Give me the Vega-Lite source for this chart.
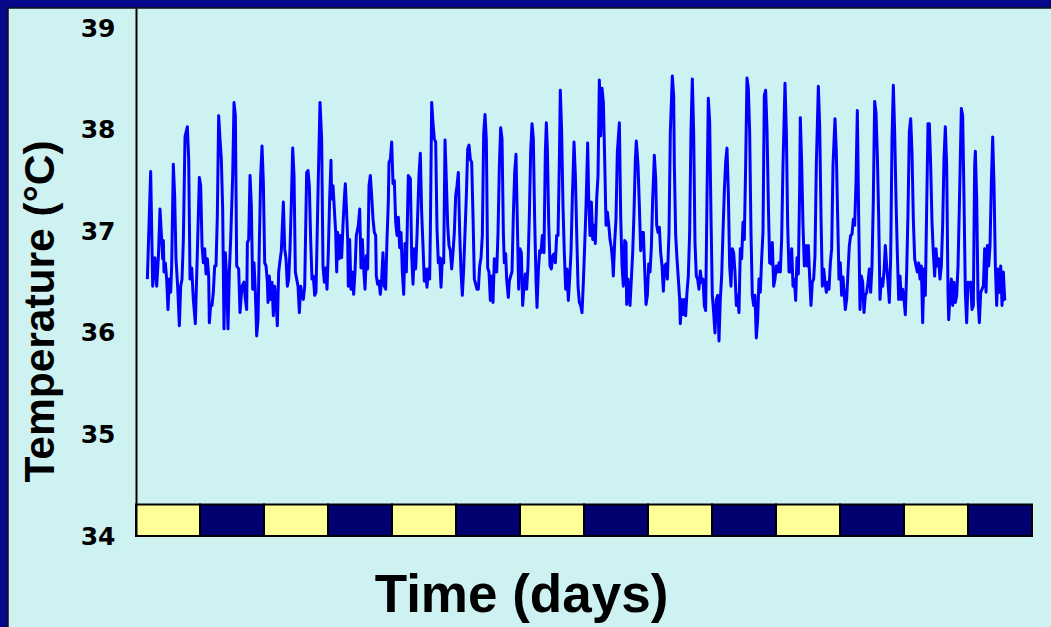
{
  "$schema": "https://vega.github.io/schema/vega-lite/v6.json",
  "width": 896,
  "height": 528,
  "autosize": {"type": "none"},
  "padding": {"left": 136, "top": 8, "right": 19, "bottom": 91},
  "background": "#07078a",
  "config": {"view": {"stroke": null}},
  "datasets": {
    "temp": [
      {"h":2.13,"t":36.53},{"h":2.75,"t":37.59},{"h":3.13,"t":36.46},{"h":3.56,"t":36.74},{"h":3.88,"t":36.46},{"h":4.19,"t":36.74},{"h":4.5,"t":37.22},{"h":4.81,"t":36.92},{"h":5.0,"t":36.73},{"h":5.13,"t":36.91},{"h":5.25,"t":36.6},{"h":5.5,"t":36.69},{"h":5.75,"t":36.53},{"h":6.0,"t":36.23},{"h":6.25,"t":36.53},{"h":6.5,"t":36.4},{"h":6.69,"t":36.66},{"h":7.0,"t":37.66},{"h":7.25,"t":37.35},{"h":7.5,"t":36.73},{"h":7.81,"t":36.46},{"h":8.13,"t":36.07},{"h":8.38,"t":36.46},{"h":8.63,"t":36.53},{"h":8.88,"t":36.92},{"h":9.19,"t":37.93},{"h":9.63,"t":38.03},{"h":9.88,"t":37.71},{"h":10.13,"t":36.53},{"h":10.44,"t":36.64},{"h":10.75,"t":36.33},{"h":11.13,"t":36.09},{"h":11.5,"t":36.79},{"h":11.88,"t":37.53},{"h":12.13,"t":37.45},{"h":12.38,"t":36.86},{"h":12.63,"t":36.69},{"h":12.88,"t":36.83},{"h":13.13,"t":36.58},{"h":13.38,"t":36.73},{"h":13.63,"t":36.56},{"h":13.75,"t":36.1},{"h":14.0,"t":36.27},{"h":14.25,"t":36.27},{"h":14.5,"t":36.4},{"h":14.75,"t":36.66},{"h":15.0,"t":36.66},{"h":15.25,"t":37.15},{"h":15.5,"t":38.14},{"h":15.75,"t":37.91},{"h":16.0,"t":37.71},{"h":16.25,"t":37.22},{"h":16.5,"t":36.04},{"h":16.75,"t":36.79},{"h":17.0,"t":36.53},{"h":17.25,"t":36.04},{"h":17.5,"t":36.6},{"h":17.75,"t":36.92},{"h":18.13,"t":37.55},{"h":18.38,"t":38.27},{"h":18.63,"t":38.14},{"h":18.88,"t":36.66},{"h":19.25,"t":36.63},{"h":19.5,"t":36.2},{"h":19.88,"t":36.46},{"h":20.25,"t":36.5},{"h":20.5,"t":36.33},{"h":20.75,"t":36.23},{"h":20.88,"t":36.89},{"h":21.13,"t":36.92},{"h":21.38,"t":37.55},{"h":21.63,"t":37.25},{"h":21.88,"t":36.43},{"h":22.13,"t":36.69},{"h":22.38,"t":36.4},{"h":22.63,"t":35.97},{"h":22.88,"t":36.13},{"h":23.13,"t":36.89},{"h":23.38,"t":37.55},{"h":23.63,"t":37.84},{"h":23.88,"t":37.48},{"h":24.13,"t":36.69},{"h":24.38,"t":36.66},{"h":24.63,"t":36.5},{"h":24.75,"t":36.3},{"h":25.0,"t":36.56},{"h":25.25,"t":36.33},{"h":25.5,"t":36.5},{"h":25.75,"t":36.17},{"h":26.0,"t":36.46},{"h":26.25,"t":36.33},{"h":26.5,"t":36.07},{"h":26.75,"t":36.6},{"h":27.0,"t":36.71},{"h":27.25,"t":36.81},{"h":27.63,"t":37.29},{"h":27.88,"t":36.83},{"h":28.13,"t":36.73},{"h":28.38,"t":36.46},{"h":28.63,"t":36.53},{"h":28.88,"t":36.83},{"h":29.13,"t":37.29},{"h":29.38,"t":37.82},{"h":29.63,"t":37.55},{"h":29.88,"t":36.6},{"h":30.13,"t":36.53},{"h":30.38,"t":36.46},{"h":30.63,"t":36.2},{"h":30.88,"t":36.46},{"h":31.13,"t":36.37},{"h":31.38,"t":36.33},{"h":31.63,"t":36.46},{"h":32.0,"t":37.58},{"h":32.25,"t":37.6},{"h":32.5,"t":37.45},{"h":32.75,"t":36.92},{"h":33.0,"t":36.53},{"h":33.25,"t":36.56},{"h":33.5,"t":36.37},{"h":33.75,"t":36.4},{"h":34.13,"t":37.39},
      {"h":34.5,"t":38.27},{"h":34.81,"t":37.91},{"h":35.06,"t":36.66},{"h":35.31,"t":36.5},{"h":35.56,"t":36.64},{"h":35.81,"t":36.43},{"h":36.06,"t":36.79},{"h":36.31,"t":37.32},{"h":36.56,"t":37.7},{"h":36.69,"t":37.32},{"h":36.94,"t":37.45},{"h":37.19,"t":37.22},{"h":37.44,"t":36.99},{"h":37.63,"t":36.6},{"h":37.81,"t":36.99},{"h":38.06,"t":36.73},{"h":38.31,"t":36.96},{"h":38.56,"t":36.74},{"h":38.81,"t":37.06},{"h":39.06,"t":37.32},{"h":39.25,"t":37.47},{"h":39.44,"t":37.25},{"h":39.69,"t":36.92},{"h":39.81,"t":36.46},{"h":40.06,"t":36.92},{"h":40.31,"t":36.43},{"h":40.56,"t":36.6},{"h":40.81,"t":36.38},{"h":41.06,"t":36.6},{"h":41.31,"t":36.96},{"h":41.69,"t":37.06},{"h":41.94,"t":37.22},{"h":42.19,"t":36.64},{"h":42.44,"t":36.92},{"h":42.69,"t":36.63},{"h":42.94,"t":36.43},{"h":43.19,"t":36.76},{"h":43.44,"t":36.63},{"h":43.69,"t":37.45},{"h":43.94,"t":37.55},{"h":44.19,"t":37.35},{"h":44.44,"t":37.12},{"h":44.69,"t":36.99},{"h":44.94,"t":36.96},{"h":45.06,"t":36.56},{"h":45.31,"t":36.48},{"h":45.56,"t":36.51},{"h":45.81,"t":36.38},{"h":46.06,"t":36.53},{"h":46.31,"t":36.79},{"h":46.56,"t":36.46},{"h":46.81,"t":36.43},{"h":47.06,"t":36.92},{"h":47.31,"t":37.29},{"h":47.44,"t":37.68},{"h":47.69,"t":37.71},{"h":47.94,"t":37.88},{"h":48.19,"t":37.47},{"h":48.44,"t":37.5},{"h":48.69,"t":37.09},{"h":48.94,"t":36.96},{"h":49.19,"t":37.14},{"h":49.44,"t":36.84},{"h":49.69,"t":36.99},{"h":49.94,"t":36.6},{"h":50.19,"t":36.38},{"h":50.44,"t":36.88},{"h":50.69,"t":36.6},{"h":51.06,"t":37.55},{"h":51.44,"t":37.52},{"h":51.69,"t":36.76},{"h":51.94,"t":36.48},{"h":52.19,"t":36.83},{"h":52.44,"t":36.63},{"h":52.69,"t":36.96},{"h":53.06,"t":37.55},{"h":53.31,"t":37.77},{"h":53.56,"t":37.19},{"h":53.81,"t":36.86},{"h":54.06,"t":36.51},{"h":54.31,"t":36.63},{"h":54.56,"t":36.45},{"h":54.81,"t":36.63},{"h":55.06,"t":36.53},{"h":55.19,"t":36.99},{"h":55.44,"t":38.27},{"h":55.69,"t":38.06},{"h":55.94,"t":37.91},{"h":56.19,"t":37.88},{"h":56.44,"t":37.02},{"h":56.69,"t":36.69},{"h":56.94,"t":36.74},{"h":57.19,"t":36.45},{"h":57.44,"t":36.73},{"h":57.69,"t":36.69},{"h":57.94,"t":37.9},{"h":58.19,"t":37.5},{"h":58.44,"t":37.06},{"h":58.69,"t":36.86},{"h":58.94,"t":36.81},{"h":59.19,"t":36.63},{"h":59.44,"t":36.79},{"h":59.69,"t":36.99},{"h":59.94,"t":37.35},{"h":60.19,"t":37.45},{"h":60.44,"t":37.58},{"h":60.69,"t":36.99},{"h":60.94,"t":36.6},{"h":61.19,"t":36.37},{"h":61.44,"t":36.63},{"h":61.69,"t":36.99},{"h":61.94,"t":37.35},{"h":62.19,"t":37.81},{"h":62.44,"t":37.85},{"h":62.69,"t":37.71},{"h":62.94,"t":37.68},{"h":63.19,"t":37.15},{"h":63.44,"t":36.53},{"h":63.69,"t":36.48},{"h":63.94,"t":36.43},{"h":64.19,"t":36.43},{"h":64.44,"t":36.66},{"h":64.69,"t":36.74},{"h":64.94,"t":36.96},{"h":65.19,"t":37.96},{"h":65.44,"t":38.15},{"h":65.69,"t":37.9},{"h":65.94,"t":36.64},{"h":66.19,"t":36.6},{"h":66.44,"t":36.32},{"h":66.69,"t":36.56},{"h":66.94,"t":36.3},{"h":67.19,"t":36.73},
      {"h":67.63,"t":36.6},{"h":67.88,"t":36.99},{"h":68.13,"t":37.65},{"h":68.38,"t":38.02},{"h":68.63,"t":37.91},{"h":68.88,"t":36.99},{"h":69.06,"t":36.69},{"h":69.31,"t":36.78},{"h":69.5,"t":36.53},{"h":69.81,"t":36.35},{"h":70.0,"t":36.51},{"h":70.25,"t":36.56},{"h":70.5,"t":36.6},{"h":70.75,"t":37.15},{"h":71.0,"t":37.58},{"h":71.25,"t":37.76},{"h":71.5,"t":37.09},{"h":71.75,"t":36.43},{"h":72.0,"t":36.83},{"h":72.25,"t":36.79},{"h":72.5,"t":36.27},{"h":72.75,"t":36.46},{"h":73.0,"t":36.58},{"h":73.25,"t":36.43},{"h":73.5,"t":36.66},{"h":73.75,"t":37.15},{"h":74.0,"t":37.78},{"h":74.25,"t":38.06},{"h":74.5,"t":37.91},{"h":74.75,"t":37.12},{"h":75.0,"t":36.53},{"h":75.19,"t":36.25},{"h":75.44,"t":36.61},{"h":75.69,"t":36.81},{"h":75.94,"t":36.79},{"h":76.19,"t":36.96},{"h":76.5,"t":36.79},{"h":76.75,"t":37.78},{"h":76.94,"t":38.07},{"h":77.13,"t":37.81},{"h":77.38,"t":37.09},{"h":77.63,"t":36.66},{"h":77.88,"t":36.63},{"h":78.13,"t":36.76},{"h":78.38,"t":36.78},{"h":78.63,"t":36.69},{"h":78.88,"t":36.96},{"h":79.13,"t":36.96},{"h":79.38,"t":37.68},{"h":79.56,"t":38.39},{"h":79.81,"t":37.98},{"h":80.06,"t":37.25},{"h":80.31,"t":36.79},{"h":80.56,"t":36.43},{"h":80.81,"t":36.63},{"h":81.06,"t":36.32},{"h":81.31,"t":36.53},{"h":81.56,"t":36.79},{"h":81.81,"t":37.32},{"h":82.13,"t":37.88},{"h":82.38,"t":37.55},{"h":82.63,"t":36.99},{"h":82.88,"t":36.46},{"h":83.13,"t":36.3},{"h":83.38,"t":36.27},{"h":83.63,"t":36.2},{"h":83.88,"t":36.5},{"h":84.13,"t":36.86},{"h":84.38,"t":37.25},{"h":84.69,"t":37.87},{"h":84.88,"t":37.32},{"h":85.13,"t":36.96},{"h":85.38,"t":37.29},{"h":85.63,"t":36.92},{"h":85.88,"t":37.06},{"h":86.13,"t":36.88},{"h":86.38,"t":37.32},{"h":86.63,"t":37.55},{"h":86.88,"t":38.49},{"h":87.13,"t":37.94},{"h":87.38,"t":38.41},{"h":87.63,"t":38.27},{"h":87.88,"t":37.71},{"h":88.13,"t":37.06},{"h":88.38,"t":37.19},{"h":88.63,"t":37.07},{"h":88.88,"t":36.92},{"h":89.13,"t":36.84},{"h":89.38,"t":36.69},{"h":89.5,"t":36.56},{"h":89.75,"t":36.89},{"h":90.0,"t":37.12},{"h":90.25,"t":37.78},{"h":90.63,"t":38.07},{"h":90.88,"t":37.15},{"h":91.13,"t":36.66},{"h":91.38,"t":36.46},{"h":91.63,"t":36.91},{"h":91.88,"t":36.89},{"h":92.0,"t":36.28},{"h":92.25,"t":36.53},{"h":92.63,"t":36.27},{"h":92.88,"t":36.53},{"h":93.13,"t":36.79},{"h":93.38,"t":37.19},{"h":93.63,"t":37.71},{"h":93.81,"t":37.89},{"h":94.13,"t":37.65},{"h":94.38,"t":37.25},{"h":94.63,"t":36.81},{"h":94.88,"t":36.99},{"h":95.13,"t":36.99},{"h":95.38,"t":36.63},{"h":95.63,"t":36.28},{"h":95.88,"t":36.37},{"h":96.13,"t":36.68},{"h":96.38,"t":36.6},{"h":96.63,"t":36.84},{"h":96.88,"t":37.32},{"h":97.19,"t":37.75},{"h":97.44,"t":37.52},{"h":97.63,"t":37.06},{"h":97.88,"t":36.99},{"h":98.13,"t":37.04},{"h":98.38,"t":36.79},{"h":98.63,"t":36.66},{"h":98.88,"t":36.41},{"h":99.13,"t":36.66},{"h":99.38,"t":36.68},{"h":99.63,"t":36.53},
      {"h":99.94,"t":36.99},{"h":100.19,"t":37.98},{"h":100.56,"t":38.53},{"h":100.81,"t":38.34},{"h":100.94,"t":37.65},{"h":101.19,"t":36.96},{"h":101.44,"t":36.73},{"h":101.69,"t":36.53},{"h":101.94,"t":36.33},{"h":102.06,"t":36.09},{"h":102.31,"t":36.33},{"h":102.56,"t":36.18},{"h":102.81,"t":36.33},{"h":103.06,"t":36.17},{"h":103.31,"t":36.4},{"h":103.56,"t":36.56},{"h":103.81,"t":36.99},{"h":104.06,"t":37.98},{"h":104.31,"t":38.5},{"h":104.56,"t":37.98},{"h":104.81,"t":36.89},{"h":105.06,"t":36.56},{"h":105.31,"t":36.53},{"h":105.56,"t":36.43},{"h":105.81,"t":36.61},{"h":106.06,"t":36.5},{"h":106.31,"t":36.53},{"h":106.56,"t":36.27},{"h":106.81,"t":36.22},{"h":107.06,"t":37.32},{"h":107.31,"t":38.31},{"h":107.56,"t":38.08},{"h":107.81,"t":37.15},{"h":108.06,"t":36.37},{"h":108.31,"t":36.2},{"h":108.56,"t":36.0},{"h":108.81,"t":36.33},{"h":109.06,"t":36.37},{"h":109.31,"t":35.92},{"h":109.56,"t":36.33},{"h":109.81,"t":36.56},{"h":110.06,"t":36.99},{"h":110.31,"t":37.39},{"h":110.56,"t":37.68},{"h":110.81,"t":37.82},{"h":111.06,"t":37.39},{"h":111.31,"t":36.66},{"h":111.56,"t":36.46},{"h":111.81,"t":36.83},{"h":112.06,"t":36.79},{"h":112.31,"t":36.6},{"h":112.56,"t":36.27},{"h":112.81,"t":36.37},{"h":113.06,"t":36.2},{"h":113.31,"t":36.83},{"h":113.56,"t":36.73},{"h":113.81,"t":37.09},{"h":114.06,"t":36.92},{"h":114.31,"t":37.65},{"h":114.56,"t":38.51},{"h":114.81,"t":38.41},{"h":115.06,"t":37.98},{"h":115.31,"t":36.99},{"h":115.56,"t":36.37},{"h":115.81,"t":36.27},{"h":116.06,"t":36.37},{"h":116.31,"t":35.95},{"h":116.56,"t":36.13},{"h":116.81,"t":36.53},{"h":117.06,"t":36.4},{"h":117.31,"t":36.73},{"h":117.56,"t":36.99},{"h":117.81,"t":38.34},{"h":118.06,"t":38.39},{"h":118.31,"t":38.01},{"h":118.56,"t":37.29},{"h":118.81,"t":36.69},{"h":119.06,"t":36.68},{"h":119.31,"t":36.89},{"h":119.56,"t":36.46},{"h":119.81,"t":36.53},{"h":120.06,"t":36.66},{"h":120.31,"t":36.6},{"h":120.56,"t":36.69},{"h":120.81,"t":36.6},{"h":121.06,"t":36.92},{"h":121.31,"t":37.65},{"h":121.69,"t":38.46},{"h":121.94,"t":37.98},{"h":122.19,"t":37.06},{"h":122.44,"t":36.6},{"h":122.69,"t":36.6},{"h":122.94,"t":36.83},{"h":123.19,"t":36.46},{"h":123.44,"t":36.53},{"h":123.69,"t":36.32},{"h":123.94,"t":36.74},{"h":124.19,"t":36.58},{"h":124.44,"t":37.45},{"h":124.56,"t":38.12},{"h":124.81,"t":37.68},{"h":125.06,"t":37.06},{"h":125.31,"t":36.66},{"h":125.56,"t":36.86},{"h":125.81,"t":36.66},{"h":126.06,"t":36.86},{"h":126.31,"t":36.55},{"h":126.56,"t":36.27},{"h":126.81,"t":36.5},{"h":127.06,"t":36.53},{"h":127.31,"t":36.76},{"h":127.56,"t":37.65},{"h":127.94,"t":38.43},{"h":128.19,"t":38.04},{"h":128.44,"t":37.15},{"h":128.69,"t":36.46},{"h":128.94,"t":36.63},{"h":129.19,"t":36.5},{"h":129.44,"t":36.4},{"h":129.69,"t":36.5},{"h":129.94,"t":36.43},{"h":130.19,"t":36.69},{"h":130.44,"t":36.83},{"h":130.69,"t":37.65},{"h":131.06,"t":38.11},{"h":131.31,"t":37.78},{"h":131.56,"t":37.15},{"h":131.81,"t":36.53},{"h":132.06,"t":36.69},{"h":132.31,"t":36.37},{"h":132.56,"t":36.55},
      {"h":133.0,"t":36.23},{"h":133.25,"t":36.33},{"h":133.5,"t":36.6},{"h":133.75,"t":36.86},{"h":134.0,"t":36.96},{"h":134.25,"t":36.97},{"h":134.5,"t":37.12},{"h":134.75,"t":37.06},{"h":135.0,"t":37.48},{"h":135.25,"t":38.19},{"h":135.5,"t":37.15},{"h":135.75,"t":36.23},{"h":136.0,"t":36.56},{"h":136.25,"t":36.5},{"h":136.5,"t":36.2},{"h":136.75,"t":36.37},{"h":137.0,"t":36.4},{"h":137.25,"t":36.5},{"h":137.5,"t":36.63},{"h":137.75,"t":36.4},{"h":138.0,"t":36.66},{"h":138.25,"t":37.32},{"h":138.5,"t":38.28},{"h":138.75,"t":38.17},{"h":139.0,"t":37.75},{"h":139.25,"t":37.15},{"h":139.5,"t":36.33},{"h":139.75,"t":36.53},{"h":140.0,"t":36.46},{"h":140.25,"t":36.6},{"h":140.5,"t":36.86},{"h":140.75,"t":36.66},{"h":141.0,"t":36.5},{"h":141.25,"t":36.3},{"h":141.5,"t":36.73},{"h":141.75,"t":37.91},{"h":142.0,"t":38.44},{"h":142.25,"t":37.98},{"h":142.5,"t":37.32},{"h":142.75,"t":36.79},{"h":143.0,"t":36.33},{"h":143.25,"t":36.56},{"h":143.5,"t":36.33},{"h":143.75,"t":36.43},{"h":144.0,"t":36.33},{"h":144.25,"t":36.18},{"h":144.5,"t":36.6},{"h":144.75,"t":37.19},{"h":145.0,"t":37.98},{"h":145.25,"t":38.11},{"h":145.5,"t":37.78},{"h":145.75,"t":37.12},{"h":146.0,"t":36.73},{"h":146.25,"t":36.66},{"h":146.5,"t":36.6},{"h":146.75,"t":36.69},{"h":147.0,"t":36.53},{"h":147.25,"t":36.66},{"h":147.5,"t":36.1},{"h":147.75,"t":36.63},{"h":148.0,"t":36.37},{"h":148.25,"t":37.22},{"h":148.5,"t":38.06},{"h":148.75,"t":38.06},{"h":149.0,"t":37.65},{"h":149.25,"t":37.09},{"h":149.5,"t":36.79},{"h":149.75,"t":36.56},{"h":150.0,"t":36.83},{"h":150.25,"t":36.66},{"h":150.5,"t":36.73},{"h":150.75,"t":36.53},{"h":151.0,"t":36.66},{"h":151.25,"t":37.06},{"h":151.5,"t":37.71},{"h":151.75,"t":38.03},{"h":152.0,"t":37.65},{"h":152.25,"t":36.4},{"h":152.38,"t":36.13},{"h":152.63,"t":36.37},{"h":152.88,"t":36.53},{"h":153.13,"t":36.27},{"h":153.38,"t":36.5},{"h":153.63,"t":36.3},{"h":153.88,"t":36.37},{"h":154.13,"t":36.66},{"h":154.38,"t":37.25},{"h":154.75,"t":38.21},{"h":155.0,"t":38.14},{"h":155.25,"t":37.32},{"h":155.5,"t":36.4},{"h":155.75,"t":36.1},{"h":156.0,"t":36.5},{"h":156.25,"t":36.46},{"h":156.5,"t":36.5},{"h":156.75,"t":36.23},{"h":157.0,"t":36.27},{"h":157.25,"t":37.65},{"h":157.38,"t":37.79},{"h":157.63,"t":37.32},{"h":157.88,"t":36.33},{"h":158.13,"t":36.1},{"h":158.38,"t":36.4},{"h":158.63,"t":36.43},{"h":158.88,"t":36.46},{"h":159.13,"t":36.83},{"h":159.38,"t":36.4},{"h":159.63,"t":36.86},{"h":159.88,"t":36.66},{"h":160.13,"t":36.86},{"h":160.38,"t":37.48},{"h":160.63,"t":37.93},{"h":160.88,"t":37.45},{"h":161.13,"t":36.66},{"h":161.38,"t":36.27},{"h":161.63,"t":36.63},{"h":161.88,"t":36.4},{"h":162.13,"t":36.66},{"h":162.38,"t":36.27},{"h":162.63,"t":36.6},{"h":162.88,"t":36.33},{"h":163.0,"t":36.32}
    ],
    "phases": [
      {"s":0,"e":12,"p":"light"},{"s":12,"e":24,"p":"dark"},
      {"s":24,"e":36,"p":"light"},{"s":36,"e":48,"p":"dark"},
      {"s":48,"e":60,"p":"light"},{"s":60,"e":72,"p":"dark"},
      {"s":72,"e":84,"p":"light"},{"s":84,"e":96,"p":"dark"},
      {"s":96,"e":108,"p":"light"},{"s":108,"e":120,"p":"dark"},
      {"s":120,"e":132,"p":"light"},{"s":132,"e":144,"p":"dark"},
      {"s":144,"e":156,"p":"light"},{"s":156,"e":168,"p":"dark"}
    ]
  },
  "layer": [
    {
      "data": {"values": [{}]},
      "mark": {"type": "rect", "fill": "#cef2f2", "stroke": "#111111", "strokeWidth": 1.5, "clip": false},
      "encoding": {
        "x": {
          "datum": -24, "type": "quantitative",
          "scale": {"domain": [0, 168], "nice": false, "zero": false},
          "axis": {
            "title": "Time (days)", "labels": false, "ticks": false, "domain": false, "grid": false, "zindex": 1,
            "titleFont": "Liberation Sans", "titleFontWeight": "bold", "titleFontSize": 53, "titleColor": "#000000",
            "titleX": 385, "titleY": 75, "titleBaseline": "alphabetic", "titleAlign": "center"
          }
        },
        "x2": {"datum": 200},
        "y": {
          "datum": 39.2, "type": "quantitative",
          "scale": {"domain": [34, 39.2], "nice": false, "zero": false},
          "axis": {
            "title": "Temperature (°C)", "values": [34, 35, 36, 37, 38, 39], "format": "d", "zindex": 1,
            "labelFont": "DejaVu Sans", "labelFontWeight": "bold", "labelFontSize": 25, "labelColor": "#000000",
            "labelPadding": 21, "labelOverlap": false, "labelBound": false, "labelFlush": false,
            "ticks": false, "tickSize": 0, "grid": false,
            "domainColor": "#000000", "domainWidth": 2,
            "titleFont": "Liberation Sans", "titleFontWeight": "bold", "titleFontSize": 42.5, "titleColor": "#000000",
            "titleX": -83, "titleY": 303, "titleAngle": 270, "titleBaseline": "alphabetic", "titleAlign": "center"
          }
        },
        "y2": {"datum": 32}
      }
    },
    {
      "data": {"name": "temp"},
      "mark": {"type": "line", "color": "#0000ff", "strokeWidth": 3, "strokeJoin": "round"},
      "encoding": {
        "x": {"field": "h", "type": "quantitative", "title": "Time (days)"},
        "y": {"field": "t", "type": "quantitative", "title": "Temperature (°C)"}
      }
    },
    {
      "data": {"name": "phases"},
      "mark": {"type": "rect", "stroke": "#000000", "strokeWidth": 2},
      "encoding": {
        "x": {"field": "s", "type": "quantitative", "title": "Time (days)"},
        "x2": {"field": "e"},
        "y": {"datum": 34, "type": "quantitative"},
        "y2": {"datum": 34.31},
        "color": {"field": "p", "type": "nominal", "scale": {"domain": ["light", "dark"], "range": ["#ffff99", "#00006e"]}, "legend": null}
      }
    }
  ]
}
